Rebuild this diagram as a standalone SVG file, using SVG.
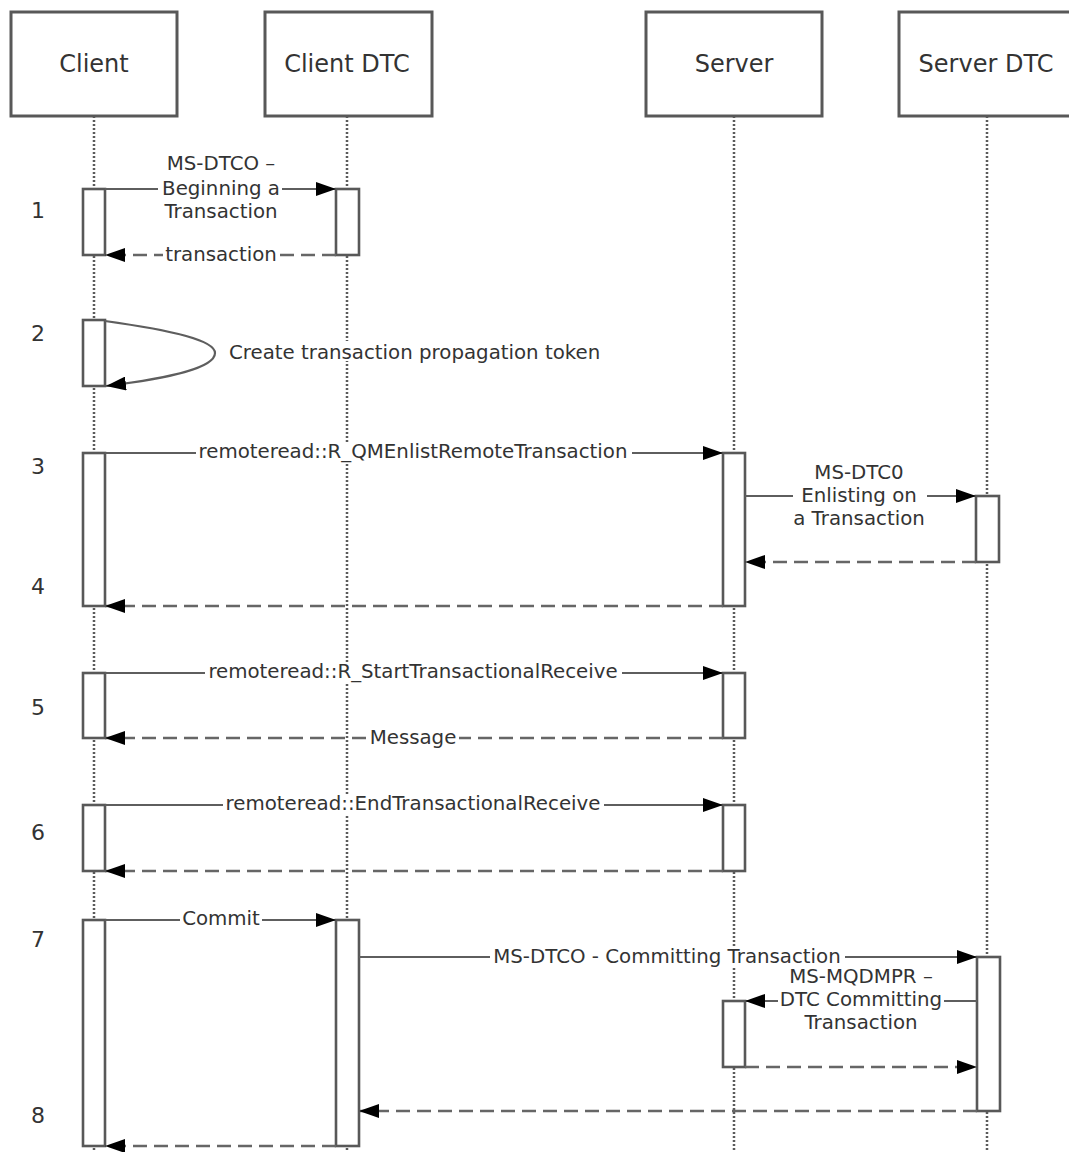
<svg xmlns="http://www.w3.org/2000/svg" width="1069" height="1152" viewBox="0 0 1069 1152">
<style>
text{font-family:"DejaVu Sans","Liberation Sans",sans-serif;fill:#333}
.head{font-size:24px;text-anchor:middle}
.msg{font-size:19.8px;text-anchor:middle}
.step{font-size:22px;text-anchor:middle}
.box{fill:#fff;stroke:#585858;stroke-width:3}
.life{stroke:#5a5a5a;stroke-width:2.5;stroke-dasharray:2,2;fill:none}
.act{fill:#fff;stroke:#585858;stroke-width:2.6}
.call{stroke:#5e5e5e;stroke-width:2.2;fill:none;marker-end:url(#ah)}
.ret{stroke:#666;stroke-width:2.4;fill:none;stroke-dasharray:14,7;marker-end:url(#ah)}
.bg{fill:#fff}
</style>
<defs>
<marker id="ah" markerUnits="userSpaceOnUse" markerWidth="21" markerHeight="14" refX="20" refY="7" orient="auto">
<path d="M0,0 L20,7 L0,14 z" fill="#000"/>
</marker>
</defs>
<rect width="1069" height="1152" fill="#fff"/>

<g id="lifelines">
<line class="life" x1="94" y1="116" x2="94" y2="1152"/>
<line class="life" x1="347" y1="116" x2="347" y2="1152"/>
<line class="life" x1="734" y1="116" x2="734" y2="1152"/>
<line class="life" x1="987" y1="116" x2="987" y2="1152"/>
</g>

<g id="node-client">
<rect class="box" x="11" y="12" width="166" height="104"/>
<text class="head" x="94" y="72">Client</text>
</g>
<g id="node-client-dtc">
<rect class="box" x="265" y="12" width="167" height="104"/>
<text class="head" x="347" y="72">Client DTC</text>
</g>
<g id="node-server">
<rect class="box" x="646" y="12" width="176" height="104"/>
<text class="head" x="734" y="72">Server</text>
</g>
<g id="node-server-dtc">
<rect class="box" x="899" y="12" width="176" height="104"/>
<text class="head" x="986" y="72">Server DTC</text>
</g>

<g id="steps">
<text class="step" x="38" y="218">1</text>
<text class="step" x="38" y="341">2</text>
<text class="step" x="38" y="474">3</text>
<text class="step" x="38" y="594">4</text>
<text class="step" x="38" y="715">5</text>
<text class="step" x="38" y="840">6</text>
<text class="step" x="38" y="947">7</text>
<text class="step" x="38" y="1123">8</text>
</g>

<g id="activations">
<rect class="act" x="83" y="189" width="22" height="66"/>
<rect class="act" x="83" y="320" width="22" height="66"/>
<rect class="act" x="83" y="453" width="22" height="153"/>
<rect class="act" x="83" y="673" width="22" height="65"/>
<rect class="act" x="83" y="805" width="22" height="66"/>
<rect class="act" x="83" y="920" width="22" height="226"/>
<rect class="act" x="336" y="189" width="23" height="66"/>
<rect class="act" x="336" y="920" width="23" height="226"/>
<rect class="act" x="723" y="453" width="22" height="153"/>
<rect class="act" x="723" y="673" width="22" height="65"/>
<rect class="act" x="723" y="805" width="22" height="66"/>
<rect class="act" x="723" y="1001" width="22" height="66"/>
<rect class="act" x="976" y="496" width="23" height="66"/>
<rect class="act" x="977" y="957" width="23" height="154"/>
</g>

<g id="connectors">
<line class="call" x1="105" y1="189" x2="336" y2="189"/>
<line class="ret" x1="336" y1="255" x2="105" y2="255"/>
<path class="call" d="M105,321 C170,330 215,340 215,353 C215,368 170,378 106,386"/>
<line class="call" x1="105" y1="453" x2="723" y2="453"/>
<line class="call" x1="745" y1="496" x2="976" y2="496"/>
<line class="ret" x1="976" y1="562" x2="745" y2="562"/>
<line class="ret" x1="723" y1="606" x2="105" y2="606"/>
<line class="call" x1="105" y1="673" x2="723" y2="673"/>
<line class="ret" x1="723" y1="738" x2="105" y2="738"/>
<line class="call" x1="105" y1="805" x2="723" y2="805"/>
<line class="ret" x1="723" y1="871" x2="105" y2="871"/>
<line class="call" x1="105" y1="920" x2="336" y2="920"/>
<line class="call" x1="359" y1="957" x2="977" y2="957"/>
<line class="call" x1="977" y1="1001" x2="745" y2="1001"/>
<line class="ret" x1="745" y1="1067" x2="977" y2="1067"/>
<line class="ret" x1="977" y1="1111" x2="359" y2="1111"/>
<line class="ret" x1="336" y1="1146" x2="105" y2="1146"/>
</g>

<g id="labels">
<text class="msg" x="221" y="170">MS-DTCO –</text>
<rect class="bg" x="158" y="180" width="124" height="20"/>
<text class="msg" x="221" y="195">Beginning a</text>
<text class="msg" x="221" y="218">Transaction</text>
<rect class="bg" x="163" y="245" width="116" height="20"/>
<text class="msg" x="221" y="261">transaction</text>
<rect class="bg" x="226" y="341" width="376" height="20"/>
<text class="msg" x="229" y="359" style="text-anchor:start">Create transaction propagation token</text>
<rect class="bg" x="196" y="443" width="436" height="20"/>
<text class="msg" x="413" y="458">remoteread::R_QMEnlistRemoteTransaction</text>
<text class="msg" x="859" y="479">MS-DTC0</text>
<rect class="bg" x="793" y="486" width="134" height="20"/>
<text class="msg" x="859" y="502">Enlisting on</text>
<text class="msg" x="859" y="525">a Transaction</text>
<rect class="bg" x="205" y="663" width="417" height="20"/>
<text class="msg" x="413" y="678">remoteread::R_StartTransactionalReceive</text>
<rect class="bg" x="367" y="728" width="92" height="20"/>
<text class="msg" x="413" y="744">Message</text>
<rect class="bg" x="223" y="795" width="381" height="20"/>
<text class="msg" x="413" y="810">remoteread::EndTransactionalReceive</text>
<rect class="bg" x="180" y="910" width="82" height="20"/>
<text class="msg" x="221" y="925">Commit</text>
<rect class="bg" x="490" y="947" width="355" height="20"/>
<text class="msg" x="667" y="963">MS-DTCO - Committing Transaction</text>
<text class="msg" x="861" y="983">MS-MQDMPR –</text>
<rect class="bg" x="778" y="991" width="166" height="20"/>
<text class="msg" x="861" y="1006">DTC Committing</text>
<text class="msg" x="861" y="1029">Transaction</text>
</g>
</svg>
